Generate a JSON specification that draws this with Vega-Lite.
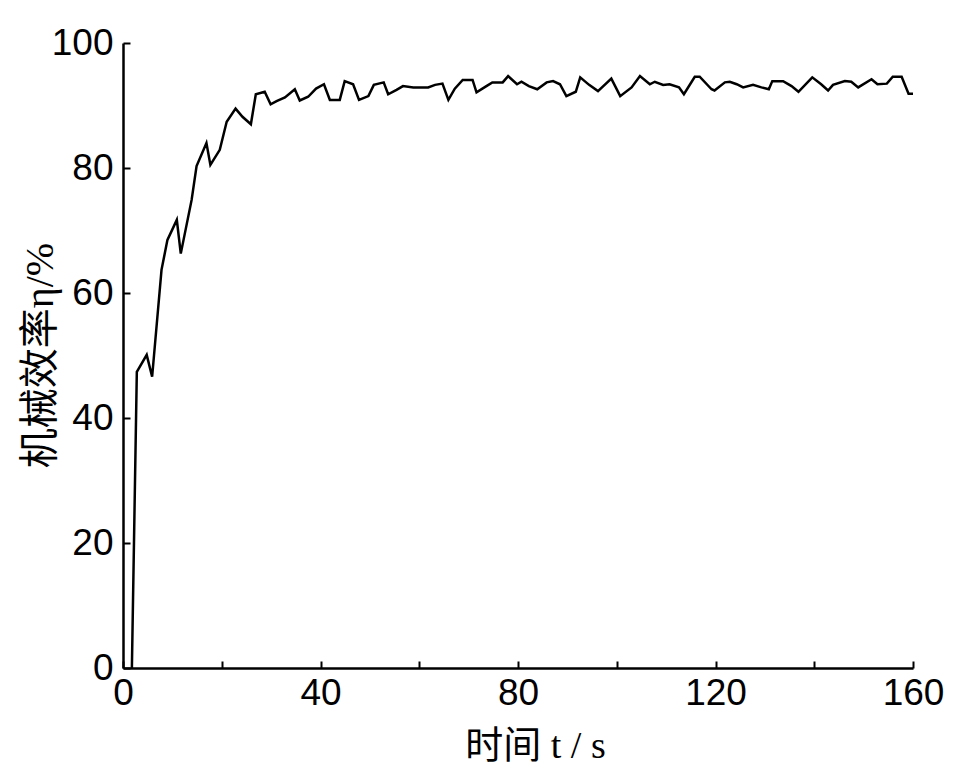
{
  "$schema": "https://vega.github.io/schema/vega-lite/v6.json",
  "autosize": "none",
  "width": 790,
  "height": 625,
  "padding": {"left": 123, "top": 43, "right": 46, "bottom": 112},
  "background": "white",
  "data": {
    "values": [
      {"t": 1.8, "eta": 0}, {"t": 2.8, "eta": 47.4}, {"t": 4.8, "eta": 50.1}, {"t": 5.9, "eta": 46.6},
      {"t": 7.8, "eta": 63.7}, {"t": 9.0, "eta": 68.5}, {"t": 10.9, "eta": 71.7}, {"t": 11.7, "eta": 66.3},
      {"t": 13.9, "eta": 74.9}, {"t": 14.9, "eta": 80.3}, {"t": 16.9, "eta": 84.0}, {"t": 17.7, "eta": 80.5},
      {"t": 19.6, "eta": 82.9}, {"t": 21.0, "eta": 87.4}, {"t": 22.8, "eta": 89.5}, {"t": 24.2, "eta": 88.2},
      {"t": 25.9, "eta": 87.0}, {"t": 26.9, "eta": 91.8}, {"t": 28.7, "eta": 92.2}, {"t": 29.9, "eta": 90.2},
      {"t": 31.1, "eta": 90.7}, {"t": 32.8, "eta": 91.3}, {"t": 34.8, "eta": 92.6}, {"t": 35.8, "eta": 90.8},
      {"t": 37.5, "eta": 91.4}, {"t": 39.1, "eta": 92.7}, {"t": 40.7, "eta": 93.4}, {"t": 41.9, "eta": 90.9},
      {"t": 43.9, "eta": 90.9}, {"t": 44.9, "eta": 93.9}, {"t": 46.6, "eta": 93.4}, {"t": 47.8, "eta": 90.9},
      {"t": 49.7, "eta": 91.5}, {"t": 50.8, "eta": 93.3}, {"t": 52.8, "eta": 93.7}, {"t": 53.7, "eta": 91.8},
      {"t": 55.4, "eta": 92.5}, {"t": 56.7, "eta": 93.1}, {"t": 58.8, "eta": 92.9}, {"t": 61.8, "eta": 92.9},
      {"t": 63.2, "eta": 93.3}, {"t": 64.7, "eta": 93.5}, {"t": 65.9, "eta": 90.9}, {"t": 67.2, "eta": 92.7},
      {"t": 68.8, "eta": 94.1}, {"t": 70.8, "eta": 94.1}, {"t": 71.6, "eta": 92.1}, {"t": 73.6, "eta": 93.1},
      {"t": 74.8, "eta": 93.7}, {"t": 76.9, "eta": 93.7}, {"t": 78.0, "eta": 94.7}, {"t": 79.8, "eta": 93.4},
      {"t": 80.7, "eta": 93.8}, {"t": 82.2, "eta": 93.1}, {"t": 83.9, "eta": 92.6}, {"t": 85.8, "eta": 93.7},
      {"t": 87.1, "eta": 93.9}, {"t": 88.5, "eta": 93.4}, {"t": 89.8, "eta": 91.5}, {"t": 91.7, "eta": 92.2},
      {"t": 92.6, "eta": 94.5}, {"t": 94.4, "eta": 93.3}, {"t": 96.2, "eta": 92.3}, {"t": 98.9, "eta": 94.3},
      {"t": 100.7, "eta": 91.5}, {"t": 103.0, "eta": 92.9}, {"t": 104.7, "eta": 94.7}, {"t": 106.7, "eta": 93.4},
      {"t": 107.7, "eta": 93.8}, {"t": 109.4, "eta": 93.3}, {"t": 110.7, "eta": 93.4}, {"t": 112.6, "eta": 92.9},
      {"t": 113.6, "eta": 91.8}, {"t": 115.8, "eta": 94.6}, {"t": 116.8, "eta": 94.6}, {"t": 119.2, "eta": 92.6},
      {"t": 119.8, "eta": 92.4}, {"t": 121.9, "eta": 93.7}, {"t": 122.9, "eta": 93.8}, {"t": 124.3, "eta": 93.4},
      {"t": 125.6, "eta": 92.9}, {"t": 127.6, "eta": 93.3}, {"t": 129.3, "eta": 92.9}, {"t": 130.8, "eta": 92.6},
      {"t": 131.5, "eta": 93.9}, {"t": 133.7, "eta": 93.9}, {"t": 135.4, "eta": 93.1}, {"t": 136.8, "eta": 92.2},
      {"t": 139.6, "eta": 94.5}, {"t": 141.4, "eta": 93.4}, {"t": 142.8, "eta": 92.4}, {"t": 143.8, "eta": 93.3},
      {"t": 146.2, "eta": 93.9}, {"t": 147.5, "eta": 93.8}, {"t": 148.9, "eta": 92.9}, {"t": 151.6, "eta": 94.2},
      {"t": 152.8, "eta": 93.4}, {"t": 154.7, "eta": 93.5}, {"t": 155.9, "eta": 94.6}, {"t": 157.7, "eta": 94.6},
      {"t": 159.1, "eta": 91.9}, {"t": 160.0, "eta": 91.9}
    ]
  },
  "mark": {"type": "line", "color": "black", "strokeWidth": 2.5, "clip": true},
  "encoding": {
    "x": {
      "field": "t",
      "type": "quantitative",
      "scale": {"domain": [0, 160], "nice": false, "zero": false},
      "axis": {
        "title": "时间 t / s",
        "values": [0, 20, 40, 60, 80, 100, 120, 140, 160],
        "labelExpr": "datum.value % 40 == 0 ? datum.label : ''",
        "labelPadding": 14,
        "titleX": 412,
        "titleY": 78,
        "titleBaseline": "middle",
        "titleAlign": "center"
      }
    },
    "y": {
      "field": "eta",
      "type": "quantitative",
      "scale": {"domain": [0, 100], "nice": false},
      "axis": {
        "title": "机械效率η/%",
        "titleFontSize": 40,
        "values": [0, 20, 40, 60, 80, 100],
        "labelPadding": 17,
        "titleAngle": -90,
        "titleX": -83,
        "titleY": 312,
        "titleBaseline": "middle",
        "titleAlign": "center"
      }
    }
  },
  "config": {
    "view": {"stroke": null},
    "axis": {
      "grid": false,
      "domainColor": "black",
      "domainWidth": 2.5,
      "tickColor": "black",
      "tickWidth": 2,
      "tickSize": -7,
      "labelFlush": false,
      "labelOverlap": false,
      "labelFont": "Liberation Sans",
      "labelFontSize": 37,
      "labelColor": "black",
      "titleFont": "Liberation Serif, Noto Sans CJK SC",
      "titleFontSize": 38,
      "titleFontWeight": "normal",
      "titleColor": "black"
    }
  }
}
